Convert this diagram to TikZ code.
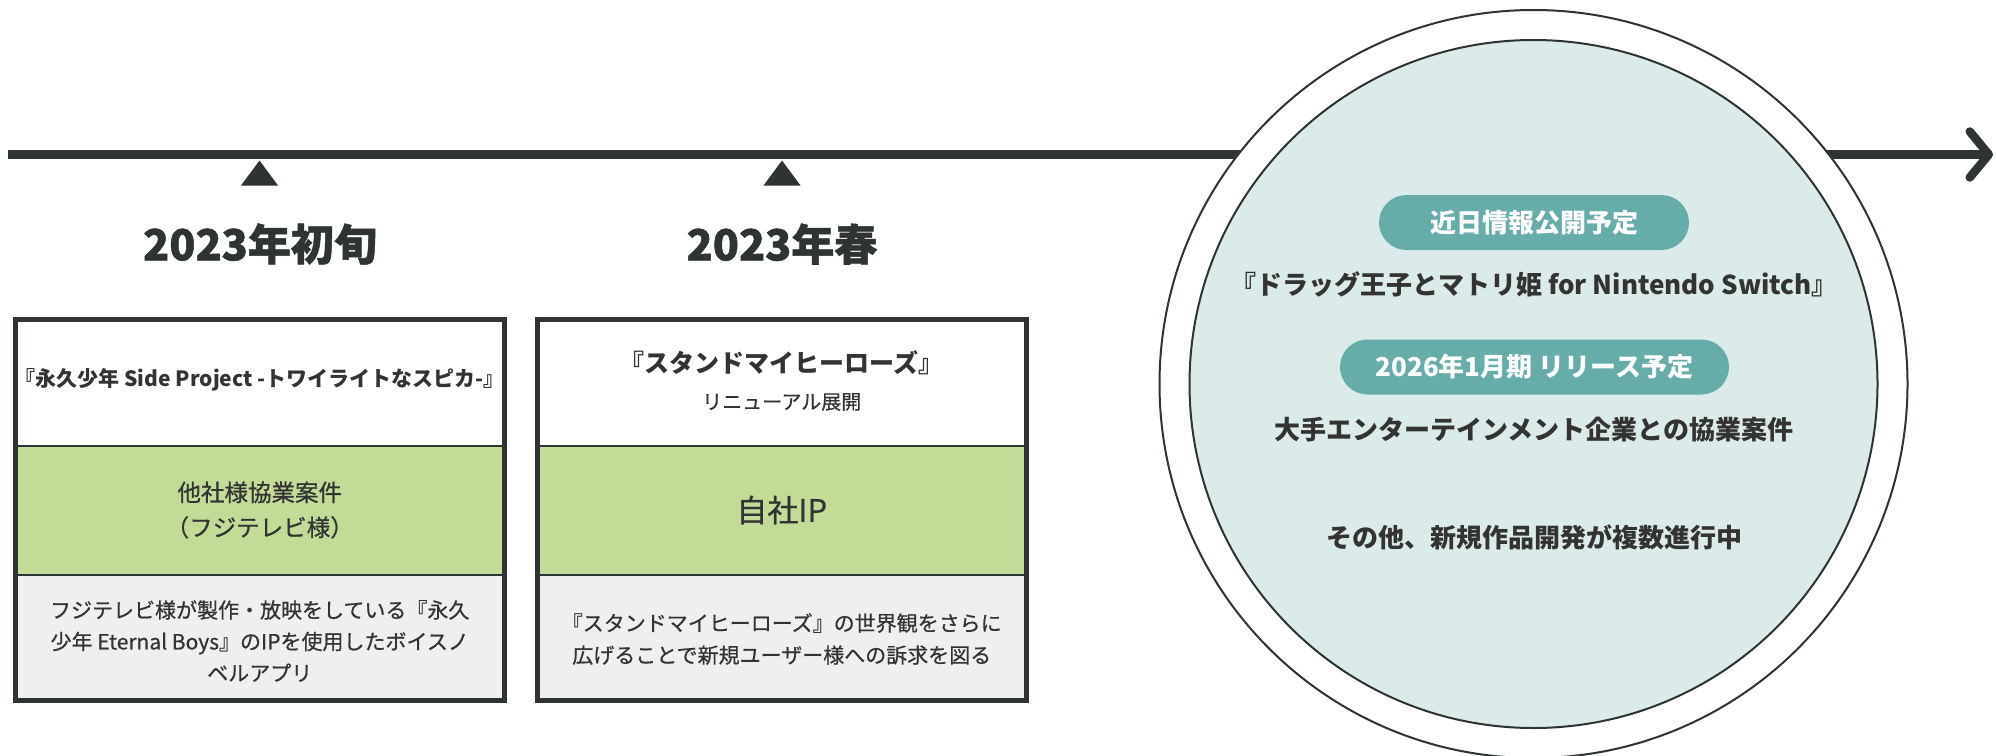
\documentclass[tikz,border=0pt]{standalone}
\usepackage{fontspec}
\setmainfont{Noto Sans CJK JP}
\newfontfamily\medfont[FakeBold=0.6]{Noto Sans CJK JP}
\usepackage{tikz}
\usetikzlibrary{arrows.meta}

\definecolor{inkdark}{HTML}{2E3333}
\definecolor{textdark}{HTML}{333333}
\definecolor{boxgreen}{HTML}{C2DC98}
\definecolor{boxgray}{HTML}{EFEFEF}
\definecolor{pillteal}{HTML}{66ADAA}
\definecolor{circfill}{HTML}{DBEBE9}

\tikzset{
  timeline/.style={draw=inkdark, line width=8.5pt},
  marker/.style={fill=inkdark},
  yearlabel/.style={text=inkdark, font=\bfseries\addfontfeatures{FakeBold=1.2}\fontsize{43}{50}\selectfont},
  frame/.style={draw=inkdark, line width=5pt},
  divider/.style={draw=inkdark, line width=2pt},
  boxtext/.style={text=textdark, align=center, inner sep=0pt},
  pill/.style={fill=pillteal, text=white, rounded corners=27.5pt, minimum height=55pt,
    inner sep=0pt, font=\bfseries\fontsize{26}{30}\selectfont},
  circtext/.style={text=textdark, inner sep=0pt, font=\bfseries\fontsize{26}{30}\selectfont}
}

\begin{document}
\begin{tikzpicture}[x=1pt,y=-1pt]
	\useasboundingbox (0,0) rectangle (1996,755);
	% timeline
	\coordinate (tlstart) at (8,154.5);
	\coordinate (tlend) at (1993,154.5);
	\draw[timeline, -{Straight Barb[length=19pt,width=46pt,round]}] (tlstart) -- (tlend);
	\fill[marker] (259.5,160.5) -- ++(18.5,25) -- ++(-37,0) -- cycle;
	\fill[marker] (782,160.5) -- ++(18.5,25) -- ++(-37,0) -- cycle;
	\node[yearlabel] (year1) at (260,244) {2023年初旬};
	\node[yearlabel] (year2) at (782,244) {2023年春};
	% box 1
	\fill[white] (15,319.5) rectangle (504.5,445.5);
	\fill[boxgreen] (15,445.5) rectangle (504.5,574.5);
	\fill[boxgray] (15,574.5) rectangle (504.5,700.5);
	\draw[divider] (15,445.5) -- (504.5,445.5);
	\draw[divider] (15,574.5) -- (504.5,574.5);
	\draw[frame] (15,319.5) rectangle (504.5,700.5);
	\node[boxtext, font=\bfseries\fontsize{21}{26}\selectfont] (title1) at (259.75,380) {『永久少年 Side Project -トワイライトなスピカ-』};
	\node[boxtext, font=\medfont\fontsize{23.5}{35}\selectfont] (kind1) at (259.75,510) {他社様協業案件\\（フジテレビ様）};
	\node[boxtext, font=\medfont\fontsize{21}{31.5}\selectfont] (note1) at (259.75,641) {フジテレビ様が製作・放映をしている『永久\\少年 Eternal Boys』のIPを使用したボイスノ\\ベルアプリ};
	% box 2
	\fill[white] (537,319.5) rectangle (1026.5,445.5);
	\fill[boxgreen] (537,445.5) rectangle (1026.5,574.5);
	\fill[boxgray] (537,574.5) rectangle (1026.5,700.5);
	\draw[divider] (537,445.5) -- (1026.5,445.5);
	\draw[divider] (537,574.5) -- (1026.5,574.5);
	\draw[frame] (537,319.5) rectangle (1026.5,700.5);
	\node[boxtext, font=\bfseries\fontsize{25}{30}\selectfont] (title2) at (781.75,363) {『スタンドマイヒーローズ』};
	\node[boxtext, font=\medfont\fontsize{20}{24}\selectfont] (sub2) at (781.75,402) {リニューアル展開};
	\node[boxtext, font=\medfont\fontsize{31}{36}\selectfont] (kind2) at (781.75,510) {自社IP};
	\node[boxtext, font=\medfont\fontsize{21}{32}\selectfont] (note2) at (781.75,639) {『スタンドマイヒーローズ』の世界観をさらに\\広げることで新規ユーザー様への訴求を図る};
	% upcoming
	\draw[draw=inkdark, line width=2pt, fill=white] (1533.5,384) circle [radius=374pt];
	\draw[draw=inkdark, line width=2pt, fill=circfill] (1533.5,384) circle [radius=344pt];
	\node[pill, minimum width=310pt] (soon) at (1534,222.5) {近日情報公開予定};
	\node[circtext] (game) at (1534,284) {『ドラッグ王子とマトリ姫 for Nintendo Switch』};
	\node[pill, minimum width=389pt] (release) at (1534.5,367) {2026年1月期 リリース予定};
	\node[circtext] (partner) at (1534,430) {大手エンターテインメント企業との協業案件};
	\node[circtext] (others) at (1534,537) {その他、新規作品開発が複数進行中};
\end{tikzpicture}
\end{document}
